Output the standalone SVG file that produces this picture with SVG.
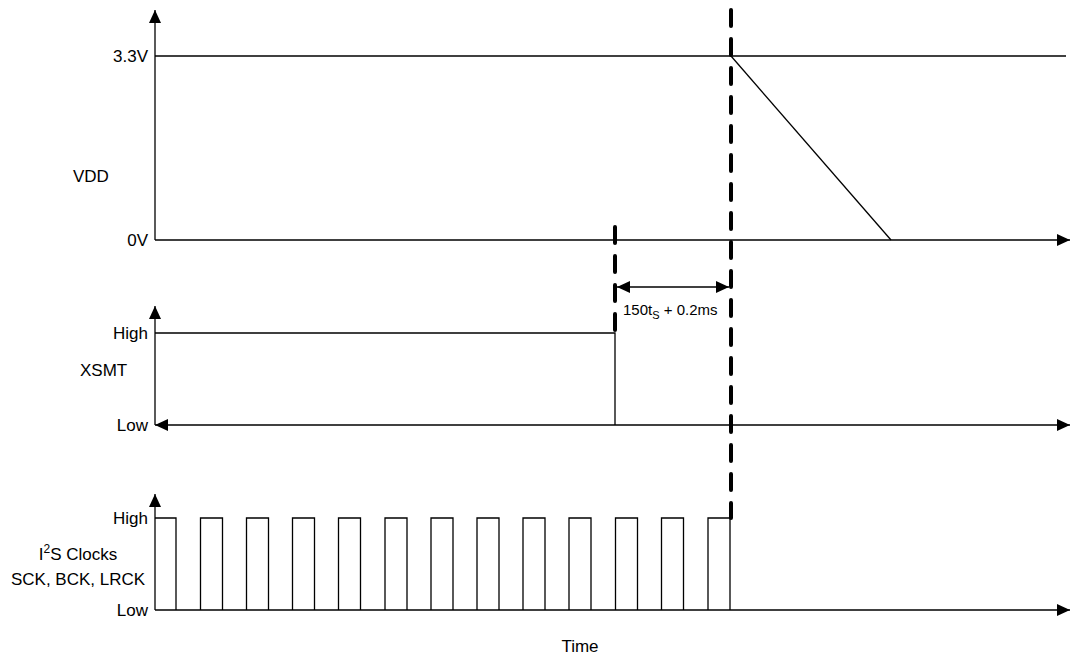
<svg xmlns="http://www.w3.org/2000/svg" width="1070" height="656" viewBox="0 0 1070 656">
<defs>
<marker id="ah" viewBox="0 0 13 12" refX="13" refY="6" markerWidth="13" markerHeight="12" markerUnits="userSpaceOnUse" orient="auto-start-reverse">
<path d="M0,0 L13,6 L0,12 Z" fill="#000"/>
</marker>
</defs>
<style>
.ln{stroke:#000;stroke-width:1.3;fill:none}
.ds{stroke:#000;stroke-width:4;fill:none;stroke-linecap:round;stroke-dasharray:16 13}
.t{font-family:"Liberation Sans",Arial,sans-serif;font-size:17px;fill:#000}
.r{text-anchor:end}
.m{text-anchor:middle}
</style>
<rect width="1070" height="656" fill="#fff"/>
<g id="vdd">
<line class="ln" x1="155" y1="240" x2="155" y2="10" marker-end="url(#ah)"/>
<line class="ln" x1="155" y1="56" x2="1066" y2="56"/>
<line class="ln" x1="155" y1="240" x2="1070" y2="240" marker-end="url(#ah)"/>
<line class="ln" x1="731" y1="56" x2="891" y2="240"/>
<text class="t r" x="148" y="62">3.3V</text>
<text class="t" x="73" y="182">VDD</text>
<text class="t r" x="148" y="246">0V</text>
</g>
<g id="xsmt">
<line class="ln" x1="155" y1="425" x2="155" y2="306" marker-end="url(#ah)"/>
<line class="ln" x1="155" y1="425" x2="1070" y2="425" marker-start="url(#ah)" marker-end="url(#ah)"/>
<polyline class="ln" points="155,333 615,333 615,425"/>
<text class="t r" x="148" y="339">High</text>
<text class="t" x="80" y="376">XSMT</text>
<text class="t r" x="148" y="431">Low</text>
</g>
<g id="i2s">
<line class="ln" x1="155" y1="610" x2="155" y2="494" marker-end="url(#ah)"/>
<line class="ln" x1="155" y1="610" x2="1070" y2="610" marker-end="url(#ah)"/>
<path class="ln" d="M155,518 H176 V610 M200.5,610 V518 H222.5 V610 M246.5,610 V518 H268.5 V610 M292.5,610 V518 H314.5 V610 M338.5,610 V518 H360.5 V610 M385,610 V518 H407 V610 M431,610 V518 H453 V610 M477,610 V518 H499 V610 M523,610 V518 H545 V610 M569,610 V518 H591 V610 M615.5,610 V518 H637.5 V610 M661.5,610 V518 H683.5 V610 M708,610 V518 H730 V610"/>
<text class="t r" x="148" y="524">High</text>
<text class="t m" x="78" y="560">I<tspan font-size="12" dy="-7">2</tspan><tspan dy="7">S Clocks</tspan></text>
<text class="t m" x="78" y="585">SCK, BCK, LRCK</text>
<text class="t r" x="148" y="616">Low</text>
</g>
<g id="connectors">
<line class="ds" x1="731" y1="10" x2="731" y2="518"/>
<line class="ds" x1="615" y1="227" x2="615" y2="333"/>
<line class="ln" x1="617" y1="287" x2="729" y2="287" marker-start="url(#ah)" marker-end="url(#ah)"/>
</g>
<g id="labels">
<text class="t" style="font-size:15px" x="623" y="315">150t<tspan font-size="11" dy="4">S</tspan><tspan dy="-4"> + 0.2ms</tspan></text>
<text class="t m" x="580" y="652">Time</text>
</g>
</svg>
